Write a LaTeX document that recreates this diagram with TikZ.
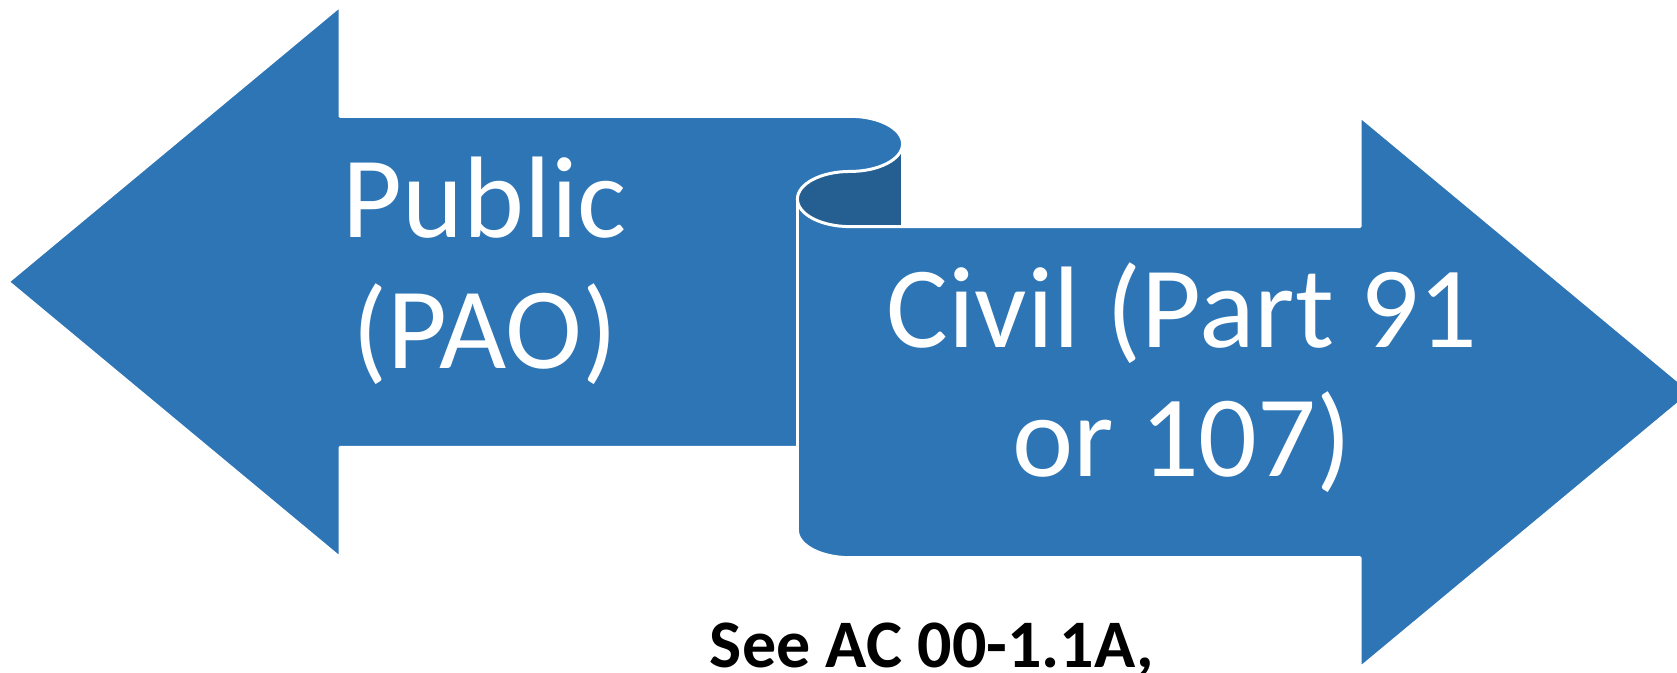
\documentclass[tikz,border=0pt]{standalone}
\usepackage{fontspec}
\setmainfont{Carlito}
\definecolor{ribbonblue}{HTML}{2E75B6}
\definecolor{ribbondark}{HTML}{255E91}
\tikzset{
  ribbonfill/.style={fill=ribbonblue},
  curlfill/.style={fill=ribbondark},
  outline/.style={draw=white,line width=3pt,line join=round},
  bigtext/.style={text=white,inner sep=0pt,anchor=base,font=\fontsize{116}{130}\selectfont},
  notetext/.style={text=black,inner sep=0pt,anchor=base,font=\bfseries\fontsize{68}{82}\selectfont}
}
\begin{document}
\begin{tikzpicture}[x=1pt,y=1pt]
\useasboundingbox (0,0) rectangle (1677,672);
\clip (0,0) rectangle (1677,672);
% main ribbon body
\fill[ribbonfill] (8,390.2) -- (340,666) -- (340,555.7) -- (850,555.7)
  arc[start angle=90,end angle=-90,x radius=52.6pt,y radius=27.58pt]
  arc[start angle=90,end angle=270,x radius=52.6pt,y radius=27.58pt]
  -- (1360,445.3) -- (1360,555.7) -- (1692,279.8) -- (1360,4) -- (1360,114.3) -- (850,114.3)
  arc[start angle=-90,end angle=-180,x radius=52.6pt,y radius=27.58pt]
  -- (797.4,224.7) -- (340,224.7) -- (340,114.3) -- cycle;
% dark fold
\fill[curlfill] (902.6,528.1)
  arc[start angle=0,end angle=-90,x radius=52.6pt,y radius=27.58pt]
  arc[start angle=90,end angle=270,x radius=52.6pt,y radius=27.58pt]
  -- (902.6,445.4) -- cycle;
% white outline
\draw[outline] (8,390.2) -- (340,666) -- (340,555.7) -- (850,555.7)
  arc[start angle=90,end angle=-90,x radius=52.6pt,y radius=27.58pt]
  arc[start angle=90,end angle=270,x radius=52.6pt,y radius=27.58pt]
  -- (1360,445.3) -- (1360,555.7) -- (1692,279.8) -- (1360,4) -- (1360,114.3) -- (850,114.3)
  arc[start angle=-90,end angle=-180,x radius=52.6pt,y radius=27.58pt]
  -- (797.4,224.7) -- (340,224.7) -- (340,114.3) -- cycle;
\draw[outline] (902.6,528.1) -- (902.6,445.3);
\draw[outline] (797.4,472.9) -- (797.4,224.7);
% texts
\node[bigtext] (pub) at (485,434) {Public};
\node[bigtext] (pao) at (485,303) {(PAO)};
\node[bigtext] (civ) at (1182,324) {Civil (Part 91};
\node[bigtext] (or) at (1182,195) {or 107)};
\node[notetext] (see) at (932,5) {See AC 00-1.1A,};
\end{tikzpicture}
\end{document}
